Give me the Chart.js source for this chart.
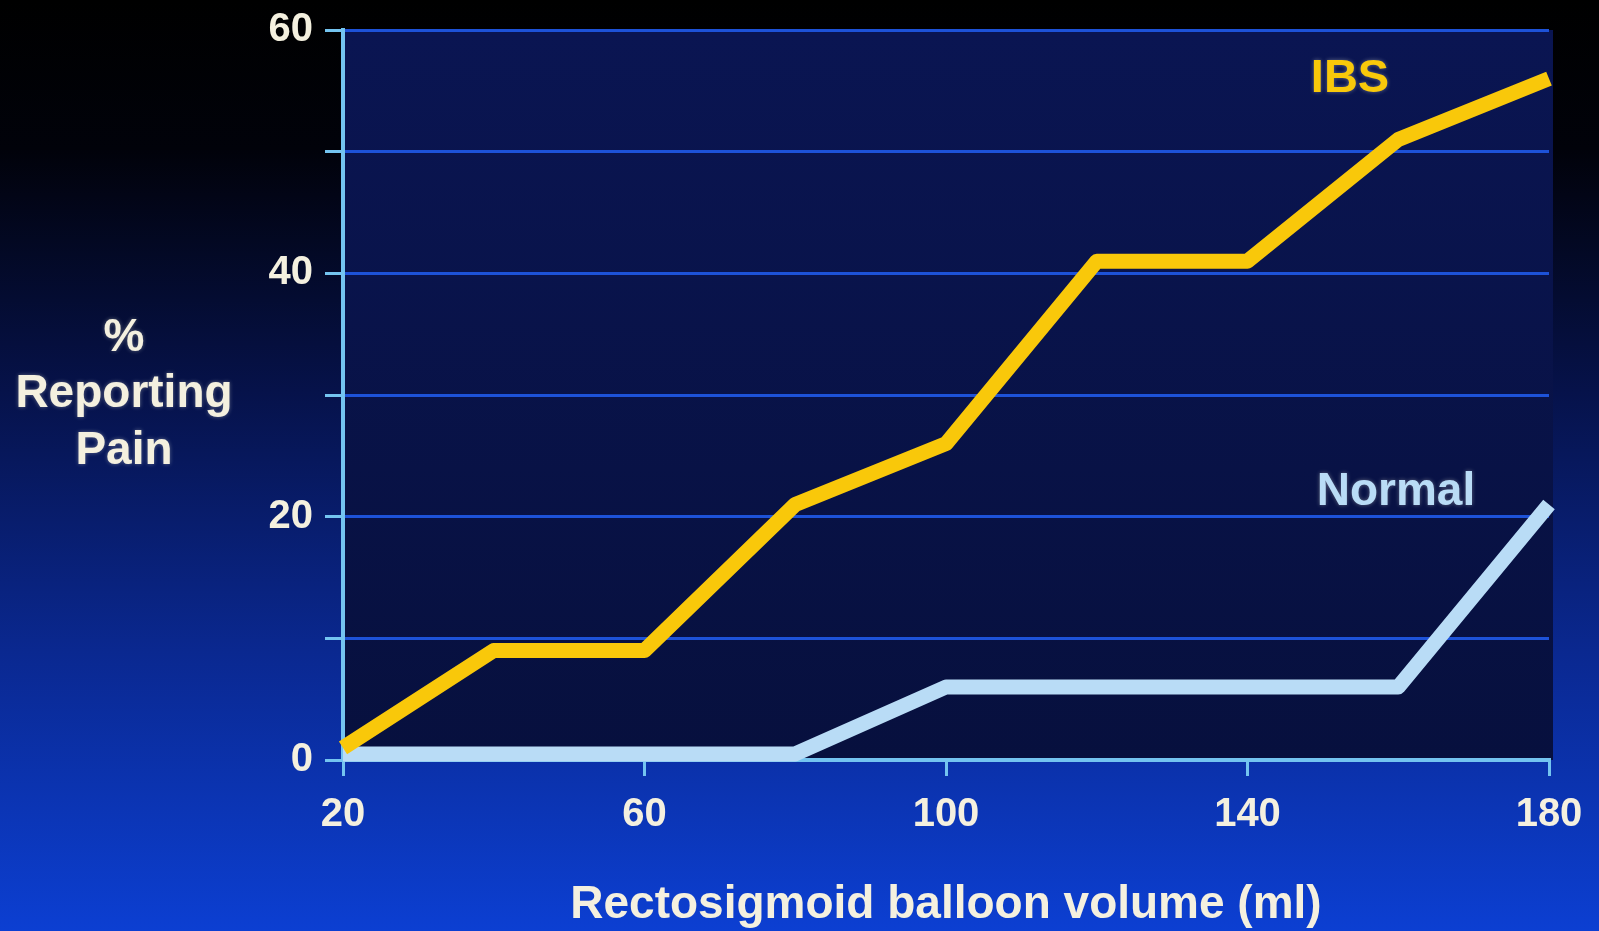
<!DOCTYPE html>
<html>
<head>
<meta charset="utf-8">
<title>% Reporting Pain vs rectosigmoid balloon volume</title>
<script src="https://cdn.jsdelivr.net/npm/chart.js@4/dist/chart.umd.min.js"></script>
<style>
  html, body { margin: 0; padding: 0; }
  body {
    width: 1599px;
    height: 931px;
    overflow: hidden;
    background: linear-gradient(to bottom, #000000 0%, #01020a 16%, #06124a 42%, #0a2890 70%, #0c3fd2 100%);
  }
  #chart { display: block; }
</style>
</head>
<body>
<canvas id="chart" width="1599" height="931"></canvas>
<script>
// data
const volumes = [20, 40, 60, 80, 100, 120, 140, 160, 180];
const ibsPain = [1, 9, 9, 21, 26, 41, 41, 51, 56];
const normalPain = [0.5, 0.5, 0.5, 0.5, 6, 6, 6, 6, 21];
const xTicks = [20, 60, 100, 140, 180];
const yTicks = [0, 20, 40, 60];
const seriesNames = ["IBS", "Normal"];
const yTitle = ["%", "Reporting", "Pain"];
const xTitle = "Rectosigmoid balloon volume (ml)";

const FONT = '"Liberation Sans", Arial, sans-serif';
const axisBlue = "#74c4f0";
const gridBlue = "#1d52d8";
const textWhite = "#f4f0df";
const ibsYellow = "#f9c80a";
const normalBlue = "#b9dcf6";

const toPoints = (ys) => volumes.map((v, i) => ({ x: v, y: ys[i] }));

// dark panel behind the plot
const plotPanel = {
  id: "plotPanel",
  beforeDraw(chart) {
    const { ctx, chartArea: a } = chart;
    const g = ctx.createLinearGradient(0, a.top, 0, a.bottom);
    g.addColorStop(0, "#0a1552");
    g.addColorStop(1, "#07103e");
    ctx.save();
    ctx.fillStyle = g;
    ctx.fillRect(a.left, a.top, a.right - a.left + 4, a.bottom - a.top);
    ctx.restore();
  }
};

// series names next to the lines + the stacked y title
const slideText = {
  id: "slideText",
  afterDraw(chart) {
    const { ctx, scales } = chart;
    ctx.save();
    ctx.textAlign = "center";
    ctx.textBaseline = "middle";
    ctx.shadowColor = "rgba(255,255,230,0.35)";
    ctx.shadowBlur = 4;

    ctx.font = "bold 47px " + FONT;
    ctx.fillStyle = ibsYellow;
    ctx.fillText(seriesNames[0], scales.x.getPixelForValue(153.6), scales.y.getPixelForValue(56));
    ctx.fillStyle = normalBlue;
    ctx.font = "bold 46px " + FONT;
    ctx.fillText(seriesNames[1], scales.x.getPixelForValue(159.7), scales.y.getPixelForValue(22));

    ctx.fillStyle = textWhite;
    ctx.font = "bold 46px " + FONT;
    yTitle.forEach((line, i) => {
      ctx.fillText(line, 124, 338 + i * 56.5);
    });
    ctx.restore();
  }
};

const ctx = document.getElementById("chart").getContext("2d");

new Chart(ctx, {
  type: "line",
  data: {
    datasets: [
      {
        label: seriesNames[0],
        data: toPoints(ibsPain),
        borderColor: ibsYellow,
        borderWidth: 15,
        borderJoinStyle: "round",
        pointRadius: 0,
        tension: 0,
        clip: false
      },
      {
        label: seriesNames[1],
        data: toPoints(normalPain),
        borderColor: normalBlue,
        borderWidth: 15,
        borderJoinStyle: "round",
        pointRadius: 0,
        tension: 0,
        clip: false
      }
    ]
  },
  options: {
    responsive: false,
    animation: false,
    layout: { padding: { top: 25, right: 50, left: 0, bottom: 0 } },
    plugins: {
      legend: { display: false },
      tooltip: { enabled: false }
    },
    scales: {
      x: {
        type: "linear",
        min: 20,
        max: 180,
        afterBuildTicks: (s) => { s.ticks = xTicks.map((v) => ({ value: v })); },
        afterFit: (s) => { s.height = 171; },
        grid: {
          drawOnChartArea: false,
          tickLength: 16,
          tickWidth: 3,
          tickColor: axisBlue,
          lineWidth: 3
        },
        border: { color: axisBlue, width: 4 },
        ticks: {
          color: textWhite,
          font: { family: FONT, size: 40, weight: "bold" },
          padding: 15,
          maxRotation: 0
        },
        title: {
          display: true,
          text: xTitle,
          color: textWhite,
          font: { family: FONT, size: 46, weight: "bold", lineHeight: 1.1 },
          padding: { top: 0, bottom: 0 }
        }
      },
      y: {
        min: 0,
        max: 60,
        afterFit: (s) => { s.width = 343; },
        grid: {
          color: gridBlue,
          lineWidth: 3,
          tickLength: 18,
          tickWidth: 3,
          tickColor: axisBlue
        },
        border: { color: axisBlue, width: 4 },
        ticks: {
          stepSize: 10,
          color: textWhite,
          font: { family: FONT, size: 40, weight: "bold", lineHeight: 0.9 },
          padding: 12,
          callback: (v) => (yTicks.includes(v) ? v : "")
        }
      }
    }
  },
  plugins: [plotPanel, slideText]
});
</script>
</body>
</html>
